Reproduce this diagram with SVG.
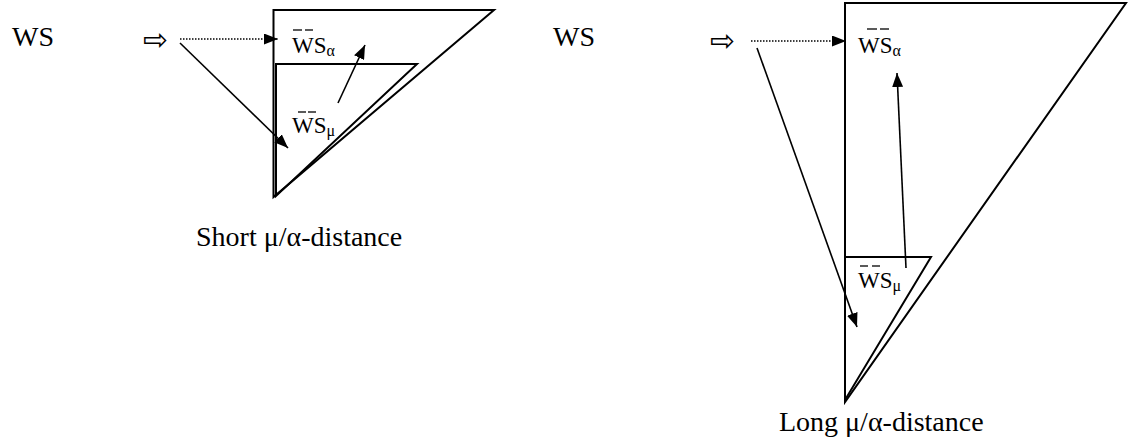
<svg xmlns="http://www.w3.org/2000/svg" width="1128" height="443" viewBox="0 0 1128 443">
<style>
.t{font-family:"Liberation Serif","Times New Roman",serif;fill:#000}
.big{font-size:28px}
.lbl{font-size:23px}
.sub{font-size:16px}
.sym{font-family:"DejaVu Sans",sans-serif;font-size:30px;fill:#000}
.tri{fill:none;stroke:#000;stroke-width:2;stroke-linejoin:miter}
.ar{fill:none;stroke:#000;stroke-width:1.6;marker-end:url(#ah)}
.dot{stroke-dasharray:1.5 1.5}
.bar{stroke:#000;stroke-width:1.3}
</style>
<defs>
<marker id="ah" markerUnits="userSpaceOnUse" viewBox="0 0 14 11" markerWidth="14" markerHeight="11" refX="14" refY="5.5" orient="auto">
<path d="M0,0 L14,5.5 L0,11 z" fill="#000"/>
</marker>
</defs>

<g id="left-diagram">
<g id="ws-left"><text class="t big" x="12" y="46">WS</text></g>
<g id="arrow-sym-left"><text class="sym" x="143" y="50">⇨</text></g>
<g id="outer-tri-left"><polygon class="tri" points="273.5,10 494,10 273.5,197"/></g>
<g id="inner-tri-left"><polygon class="tri" points="276,64 417,64 276,196"/></g>
<g id="ws-alpha-left">
<line class="bar" x1="293" y1="30" x2="302" y2="30"/>
<line class="bar" x1="305" y1="30" x2="313" y2="30"/>
<text class="t lbl" x="292" y="53">WS<tspan class="sub" dy="3">α</tspan></text>
</g>
<g id="ws-mu-left">
<line class="bar" x1="298" y1="112" x2="306" y2="112"/>
<line class="bar" x1="308" y1="112" x2="316" y2="112"/>
<text class="t lbl" x="292" y="133">WS<tspan class="sub" dy="3">μ</tspan></text>
</g>
<g id="caption-left"><text class="t big" x="196" y="246">Short μ/α-distance</text></g>
</g>

<g id="right-diagram">
<g id="ws-right"><text class="t big" x="553" y="46">WS</text></g>
<g id="arrow-sym-right"><text class="sym" x="710" y="51">⇨</text></g>
<g id="outer-tri-right"><polygon class="tri" points="845,3 1126,3 845,402"/></g>
<g id="inner-tri-right"><polygon class="tri" points="845,257 931,257 845,400"/></g>
<g id="ws-alpha-right">
<line class="bar" x1="867" y1="29" x2="877" y2="29"/>
<line class="bar" x1="880" y1="29" x2="889" y2="29"/>
<text class="t lbl" x="858" y="53">WS<tspan class="sub" dy="3">α</tspan></text>
</g>
<g id="ws-mu-right">
<line class="bar" x1="860" y1="266" x2="868" y2="266"/>
<line class="bar" x1="872" y1="266" x2="880" y2="266"/>
<text class="t lbl" x="858" y="288">WS<tspan class="sub" dy="3">μ</tspan></text>
</g>
<g id="caption-right"><text class="t big" x="779" y="431">Long μ/α-distance</text></g>
</g>

<g id="connectors">
<path class="ar dot" d="M180,39 L278,39"/>
<path class="ar" d="M180,43 L288,148"/>
<path class="ar" d="M338,103 L365,45"/>
<path class="ar dot" d="M751,41 L846,41"/>
<path class="ar" d="M757,48 L857,327"/>
<path class="ar" d="M906,268 L897,73"/>
</g>
</svg>
